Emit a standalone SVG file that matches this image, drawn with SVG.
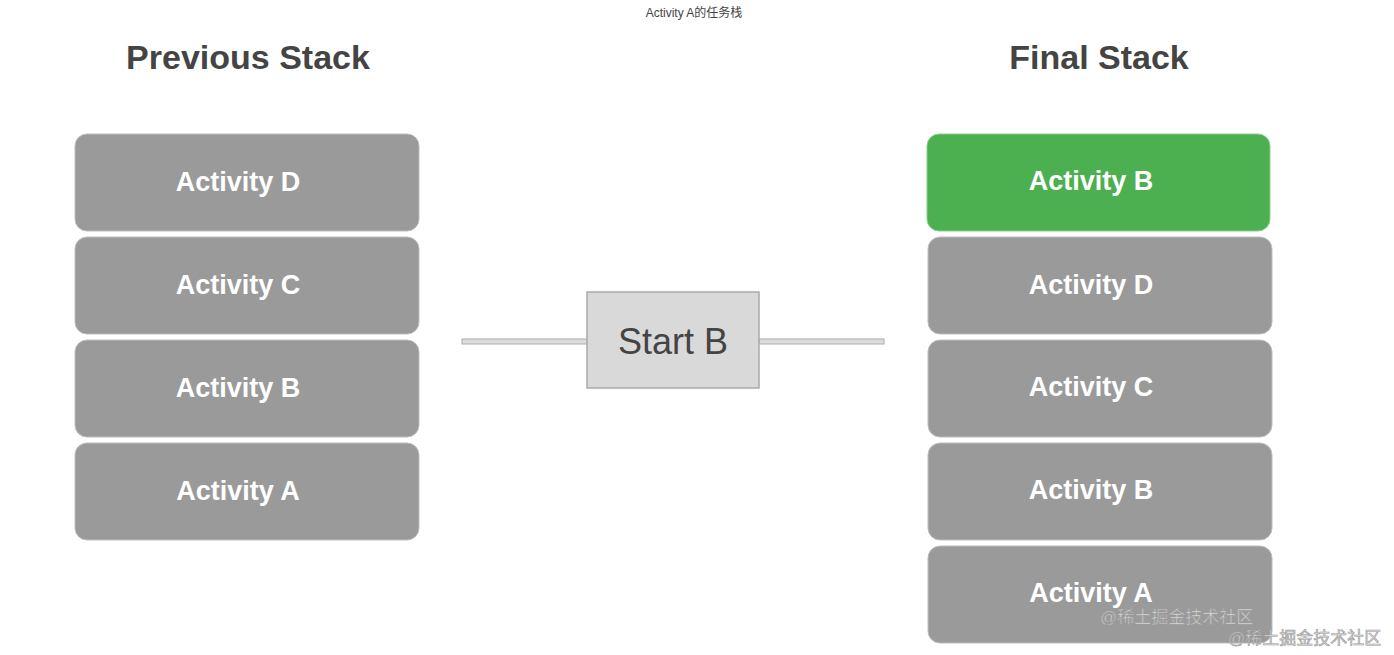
<svg xmlns="http://www.w3.org/2000/svg" width="1394" height="655" viewBox="0 0 1394 655">
<style>
.n{fill:#9a9a9a;stroke:#bdbdbd;stroke-width:1}
.g{fill:#4caf50;stroke:#8bcf8e;stroke-width:1}
.t{font-family:"Liberation Sans",Arial,sans-serif;font-weight:bold;font-size:27px;fill:#fff;text-anchor:middle}
.h{font-family:"Liberation Sans",Arial,sans-serif;font-weight:bold;font-size:34px;fill:#444;text-anchor:middle}
.w{font-family:"Liberation Sans","Noto Sans CJK SC",sans-serif;font-size:17px;fill:#ddd;stroke:#999;stroke-width:0.6}
</style>
<rect width="1394" height="655" fill="#fff"/>
<text x="694" y="17" font-family="Liberation Sans,Noto Sans CJK SC,sans-serif" font-size="12" fill="#444" text-anchor="middle">Activity A的任务栈</text>
<text class="h" x="248" y="69">Previous Stack</text>
<text class="h" x="1099" y="69">Final Stack</text>
<g id="connectors">
<rect x="462" y="339" width="125" height="5" fill="#ddd" stroke="#aaa"/>
<rect x="759" y="339" width="125" height="5" fill="#ddd" stroke="#aaa"/>
</g>
<g id="startB"><rect x="587" y="292" width="172" height="96" fill="#d9d9d9" stroke="#aaa" stroke-width="1.5"/><text x="673" y="354" font-family="Liberation Sans,Arial,sans-serif" font-size="36" fill="#444" text-anchor="middle">Start B</text></g>
<g id="pD"><rect class="n" x="75" y="134" width="344" height="97" rx="12"/><text class="t" x="238" y="191">Activity D</text></g>
<g id="pC"><rect class="n" x="75" y="237" width="344" height="97" rx="12"/><text class="t" x="238" y="294">Activity C</text></g>
<g id="pB"><rect class="n" x="75" y="340" width="344" height="97" rx="12"/><text class="t" x="238" y="397">Activity B</text></g>
<g id="pA"><rect class="n" x="75" y="443" width="344" height="97" rx="12"/><text class="t" x="238" y="500">Activity A</text></g>
<g id="fB2"><rect class="g" x="927" y="134" width="343" height="97" rx="12"/><text class="t" x="1091" y="190">Activity B</text></g>
<g id="fD"><rect class="n" x="928" y="237" width="344" height="97" rx="12"/><text class="t" x="1091" y="294">Activity D</text></g>
<g id="fC"><rect class="n" x="928" y="340" width="344" height="97" rx="12"/><text class="t" x="1091" y="396">Activity C</text></g>
<g id="fB"><rect class="n" x="928" y="443" width="344" height="97" rx="12"/><text class="t" x="1091" y="499">Activity B</text></g>
<g id="fA"><rect class="n" x="928" y="546" width="344" height="97" rx="12"/><text class="t" x="1091" y="602">Activity A</text></g>
<text class="w" x="1100" y="623">@稀土掘金技术社区</text>
<text class="w" x="1228" y="644">@稀土掘金技术社区</text>
</svg>
